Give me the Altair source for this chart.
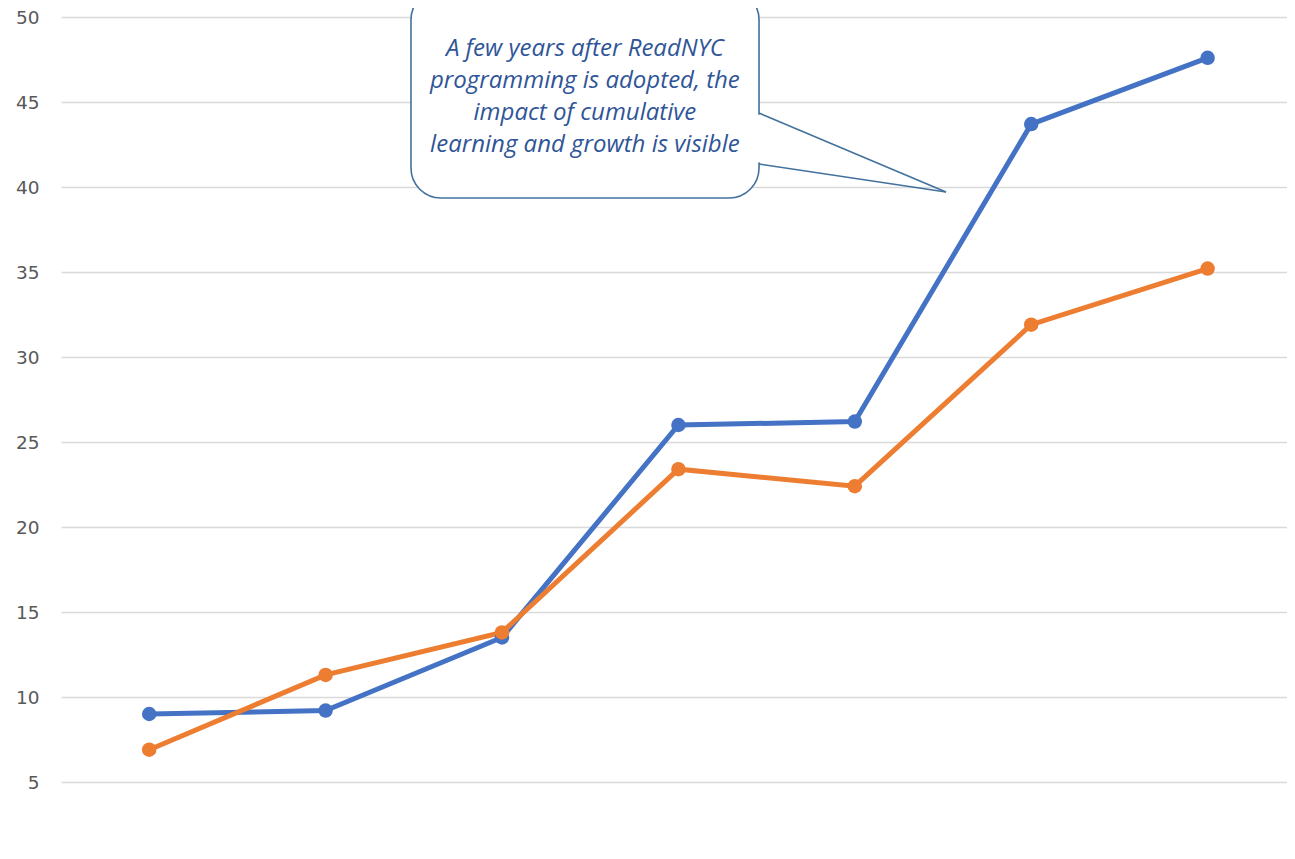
import altair as alt
import pandas as pd

# ---- data ----
steps = [0, 1, 2, 3, 4, 5, 6]
series_a = [9.0, 9.2, 13.5, 26.0, 26.2, 43.7, 47.6]
series_b = [6.9, 11.3, 13.8, 23.4, 22.4, 31.9, 35.2]
series_names = ["Series A", "Series B"]
series_colors = ["#4472C4", "#ED7D31"]
y_ticks = [5, 10, 15, 20, 25, 30, 35, 40, 45, 50]

callout_lines = [
    "A few years after ReadNYC",
    "programming is adopted, the",
    "impact of cumulative",
    "learning and growth is visible",
]

rows = []
for s, v in zip(steps, series_a):
    rows.append({"step": s, "value": v, "series": series_names[0]})
for s, v in zip(steps, series_b):
    rows.append({"step": s, "value": v, "series": series_names[1]})
df = pd.DataFrame(rows)

X_DOM = [-0.5, 6.45]
Y_DOM = [50 - 832 / 17, 50]

xs = alt.Scale(domain=X_DOM, nice=False, zero=False)
ys = alt.Scale(domain=Y_DOM, nice=False, zero=False)

lines = alt.Chart(df).mark_line(
    strokeWidth=5, point=alt.OverlayMarkDef(size=210, filled=True, opacity=1)
).encode(
    x=alt.X("step:Q", scale=xs, axis=None),
    y=alt.Y(
        "value:Q",
        scale=ys,
        axis=alt.Axis(
            values=y_ticks,
            title=None,
            domain=False,
            ticks=False,
            labelPadding=22,
            labelFontSize=18.5,
            labelFont="DejaVu Sans",
            labelColor="#595959",
            gridColor="#d9d9d9",
            gridWidth=1.5,
        ),
    ),
    color=alt.Color(
        "series:N",
        scale=alt.Scale(domain=series_names, range=series_colors),
        legend=None,
    ),
)

# ---- callout ----
box_df = pd.DataFrame([{"x": 1.484, "x2": 3.457, "y": 51.6, "y2": 39.35}])
box = alt.Chart(box_df).mark_rect(
    fill="white", stroke="#41719C", strokeWidth=1.6, cornerRadius=30, clip=False
).encode(
    x=alt.X("x:Q", scale=xs), x2="x2:Q",
    y=alt.Y("y:Q", scale=ys), y2="y2:Q",
)

gap_df = pd.DataFrame([{"x": 3.457, "y": 44.25, "y2": 41.45}])
gap = alt.Chart(gap_df).mark_rule(stroke="white", strokeWidth=4).encode(
    x=alt.X("x:Q", scale=xs), y=alt.Y("y:Q", scale=ys), y2="y2:Q"
)

ptr_df = pd.DataFrame([
    {"x": 3.457, "y": 44.35, "x2": 4.517, "y2": 39.71},
    {"x": 3.457, "y": 41.35, "x2": 4.517, "y2": 39.71},
])
ptr = alt.Chart(ptr_df).mark_rule(stroke="#41719C", strokeWidth=1.6).encode(
    x=alt.X("x:Q", scale=xs), x2="x2:Q",
    y=alt.Y("y:Q", scale=ys), y2="y2:Q",
)

txt_df = pd.DataFrame({
    "line": callout_lines,
    "x": [2.47] * 4,
    "y": [48.12, 46.24, 44.35, 42.47],
})
txt = alt.Chart(txt_df).mark_text(
    font="Open Sans", fontSize=24, fontStyle="italic", color="#2F5597",
    align="center", baseline="middle",
).encode(
    x=alt.X("x:Q", scale=xs), y=alt.Y("y:Q", scale=ys), text="line:N"
)

chart = alt.layer(lines, box, gap, ptr, txt).properties(
    width=1226,
    height=832,
    padding={"left": 53, "top": 9, "right": 0, "bottom": 0},
    autosize=alt.AutoSizeParams(type="none"),
).configure_view(stroke=None)

chart.save("out.html", embed_options={"renderer": "svg", "actions": False})
